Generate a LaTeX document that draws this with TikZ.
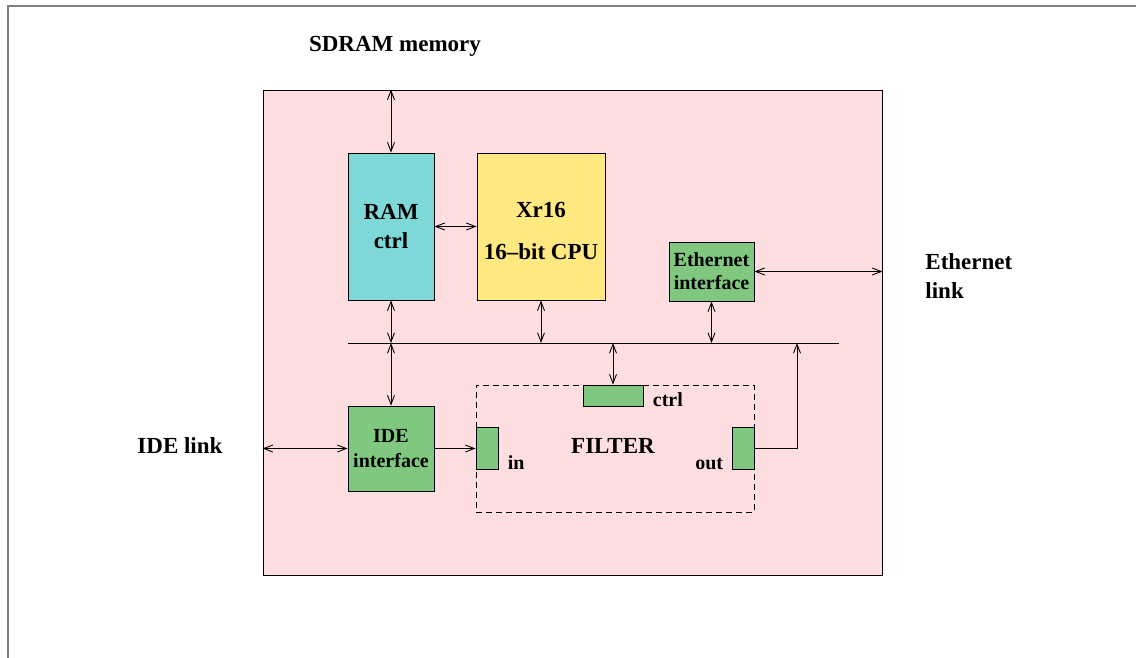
\documentclass[tikz,border=0pt]{standalone}
\usepackage{fontspec}
\setmainfont{Liberation Serif}
\usetikzlibrary{arrows.meta,positioning}
\definecolor{boardpink}{RGB}{255,222,225}
\definecolor{ramcyan}{RGB}{127,216,216}
\definecolor{cpuyellow}{RGB}{255,233,128}
\definecolor{ifgreen}{RGB}{128,200,128}
\tikzset{blk/.style={draw, rectangle, inner sep=0pt, align=center},
  bigtxt/.style={font=\fontsize{23}{29}\selectfont\bfseries, inner sep=0pt},
  smalltxt/.style={font=\fontsize{20}{23}\selectfont\bfseries, inner sep=0pt}}

\begin{document}
\begin{tikzpicture}[x=1pt,y=-1pt,line width=0.9pt,>={Straight Barb[length=9pt,width=7pt]}]
   \useasboundingbox (0,0) rectangle (1136,658);
   \draw[gray,line width=2pt] (8,658) -- (8,6) -- (1136,6);
   % board and blocks
   \node[blk, fill=boardpink, minimum width=619, minimum height=485] (board) at (572.5,332.5) {};
   \node[blk, bigtxt, fill=ramcyan, minimum width=86, minimum height=147] (ram) at (391,226.5) {RAM\\ctrl};
   \node[blk, fill=cpuyellow, minimum width=128, minimum height=147] (cpu) at (541,226.5) {};
   \node[bigtxt, align=center] (cputxt) at ([yshift=-4pt]cpu.center) {Xr16\\[13pt]16--bit CPU};
   \node[blk, smalltxt, fill=ifgreen, minimum width=85, minimum height=59] (eth) at (711.5,271.5) {Ethernet\\interface};
   \node[blk, smalltxt, fill=ifgreen, minimum width=86, minimum height=85] (ide) at (391,448.5) {IDE\\[2pt]interface};
   \node[blk, dash pattern=on 6pt off 4pt, minimum width=278, minimum height=127] (filter) at (615,448.5) {};
   \node[blk, fill=ifgreen, minimum width=60, minimum height=21] (fctrl) at (613,395.5) {};
   \node[blk, fill=ifgreen, minimum width=22, minimum height=42] (fin) at (487,448) {};
   \node[blk, fill=ifgreen, minimum width=22, minimum height=42] (fout) at (743,448) {};
   % bus
   \coordinate (busL) at (348,343);
   \coordinate (busR) at (839,343);
   \coordinate (outup) at (797,343);
   \draw (busL) -- (busR);
   % connectors
   \draw[<->] (ram.north) -- (ram.north |- board.north);
   \draw[<->] (ram) -- (cpu);
   \draw[<->] (ram.south) -- (ram.south |- busL);
   \draw[<->] (cpu.south) -- (cpu.south |- busL);
   \draw[<->] (eth.south) -- (eth.south |- busL);
   \draw[<->] (eth.east) -- (eth.east -| board.east);
   \draw[<->] (ide.north |- busL) -- (ide.north);
   \draw[<->] (fctrl.north |- busL) -- (fctrl.north);
   \draw[<->] (ide.west -| board.west) -- (ide.west);
   \draw[->] (ide.east) -- (ide.east -| fin.west);
   \draw[->] (fout.east) -| (outup);
   % labels
   \node[bigtxt, anchor=base] (sdramtxt) at (395,52) {SDRAM memory};
   \node[bigtxt, anchor=west, align=left] (ethtxt) at (925,276) {Ethernet\\link};
   \node[bigtxt, anchor=base west] (idetxt) at (137,453) {IDE link};
   \node[bigtxt, anchor=base] (filtertxt) at (613,453) {FILTER};
   \node[smalltxt, anchor=base west] (ctrltxt) at ([xshift=9pt]fctrl.south east) {ctrl};
   \node[smalltxt, anchor=base west] (intxt) at ([xshift=9pt]fin.south east) {in};
   \node[smalltxt, anchor=base east] (outtxt) at ([xshift=-8pt]fout.south west) {out};
\end{tikzpicture}
\end{document}
